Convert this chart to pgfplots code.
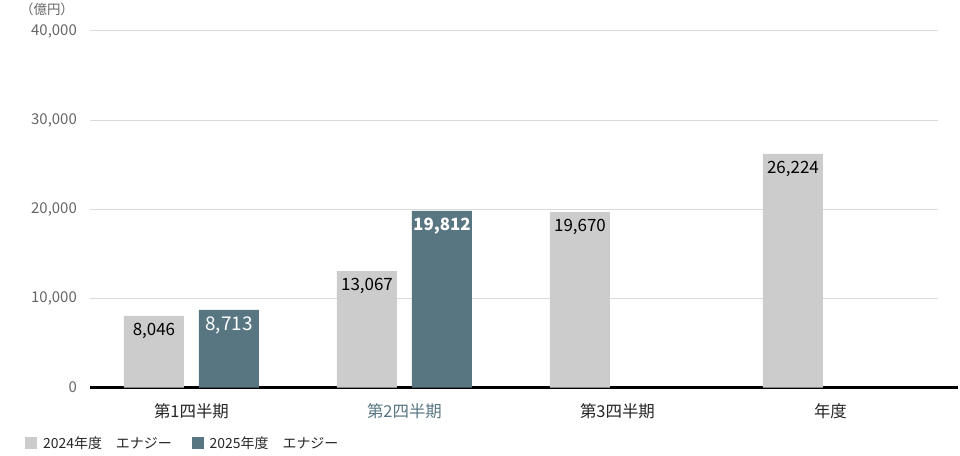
\documentclass[border=0pt]{standalone}
\usepackage{pgfplots}
\pgfplotsset{compat=1.18}
\usepackage{fontspec}
\setmainfont{Noto Sans CJK JP}
\definecolor{bar24}{HTML}{CCCCCC}
\definecolor{bar25}{HTML}{587682}
\definecolor{gridc}{HTML}{DADADA}
\definecolor{tickc}{HTML}{666666}
\begin{document}
\begin{tikzpicture}
\path[use as bounding box] (0,0) rectangle (960bp,456bp);
\begin{axis}[
    at={(90bp,68.5bp)}, anchor=south west,
    scale only axis,
    width=848bp, height=356.5bp,
    xmin=-0.4765, xmax=3.505,
    ymin=0, ymax=40000,
    axis x line*=bottom,
    axis y line*=left,
    y axis line style={draw=none},
    x axis line style={black, line width=2bp, shorten >=-20bp},
    major tick length=0pt,
    ytick={0,10000,20000,30000,40000},
    scaled y ticks=false,
    ymajorgrids=true,
    grid style={gridc, line width=1bp},
    xtick={0,1,2,3},
    xticklabels={第1四半期,\textcolor{bar25}{第2四半期},第3四半期,年度},
    xticklabel style={font=\fontsize{16.5}{19}\selectfont, text=black!85, inner sep=0pt, anchor=north, yshift=-16bp},
    yticklabel style={font=\fontsize{15}{17}\selectfont, text=tickc, inner sep=0pt, anchor=east, xshift=-13bp,
        /pgf/number format/.cd, 1000 sep={,}, assume math mode=true},
    bar width=60bp,
    point meta=explicit symbolic,
    nodes near coords={\pgfplotspointmeta},
    every node near coord/.append style={anchor=north, inner sep=0pt, yshift=-7bp,
        font=\fontsize{17}{20}\selectfont},
    legend columns=2,
    legend image code/.code={\fill[#1] (0bp,-6bp) rectangle (12bp,6bp);},
    legend style={at={(-0.0767,-0.1557)}, anchor=west, draw=none, fill=none,
        inner sep=0pt, font=\fontsize{14}{16}\selectfont, text=black!85,
        nodes={inner sep=0pt},
        /tikz/every odd column/.style={column sep=6bp},
        /tikz/every even column/.style={column sep=20bp}},
    clip=false,
]
% 2024年度
\addplot[ybar, bar shift=-37.5bp, fill=bar24, draw=none,
    every node near coord/.append style={text=black, xshift=-37.5bp}]
    coordinates {(0,8046) [{8,046}] (1,13067) [{13,067}] (2,19670) [{19,670}] (3,26224) [{26,224}]};
% 2025年度
\addplot[ybar, bar shift=37.5bp, fill=bar25, draw=none,
    every node near coord/.append style={text=white, xshift=37.5bp}]
    coordinates {(0,8713) [{\fontsize{19}{20}\selectfont 8,713}] (1,19812) [{\textbf{19,812}}]};
\legend{2024年度　エナジー,2025年度　エナジー}
\node[font=\fontsize{13.5}{15}\selectfont, text=tickc] at (axis description cs:-0.0507,1.0617) {（億円）};
\end{axis}
\end{tikzpicture}
\end{document}
